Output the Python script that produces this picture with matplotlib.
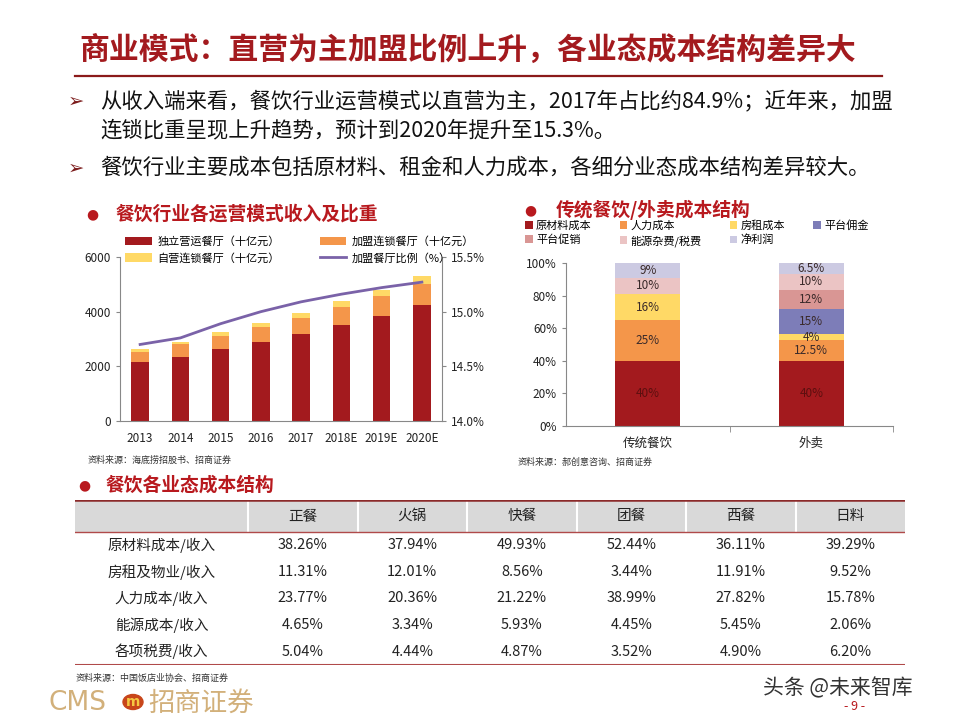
import numpy as np
import matplotlib
matplotlib.use("Agg")
import matplotlib.pyplot as plt
from matplotlib.patches import Circle
from matplotlib.lines import Line2D
from matplotlib.ticker import FuncFormatter

plt.rcParams['font.family'] = ['Noto Sans CJK SC', 'DejaVu Sans']

# ---- data: left chart (revenue by operating mode) ----
years = ['2013', '2014', '2015', '2016', '2017', '2018E', '2019E', '2020E']
independent = [2160, 2340, 2630, 2890, 3195, 3510, 3855, 4230]
franchise = [365, 465, 475, 535, 585, 660, 720, 790]
self_chain = [120, 85, 135, 160, 185, 205, 230, 270]
franchise_ratio = [14.70, 14.76, 14.89, 15.00, 15.09, 15.16, 15.22, 15.27]

# ---- data: right chart (cost structure) ----
cost_cats = ['传统餐饮', '外卖']
cost_items = ['原材料成本', '人力成本', '房租成本', '平台佣金', '平台促销', '能源杂费/税费', '净利润']
cost_vals = [
    [40, 40],
    [25, 12.5],
    [16, 4],
    [0, 15],
    [0, 12],
    [10, 10],
    [9, 6.5],
]

# ---- data: table ----
table_cols = ['正餐', '火锅', '快餐', '团餐', '西餐', '日料']
table_rows = ['原材料成本/收入', '房租及物业/收入', '人力成本/收入', '能源成本/收入', '各项税费/收入']
table_vals = [
    [38.26, 37.94, 49.93, 52.44, 36.11, 39.29],
    [11.31, 12.01, 8.56, 3.44, 11.91, 9.52],
    [23.77, 20.36, 21.22, 38.99, 27.82, 15.78],
    [4.65, 3.34, 5.93, 4.45, 5.45, 2.06],
    [5.04, 4.44, 4.87, 3.52, 4.90, 6.20],
]

W, H = 960, 720
DARK_RED = '#A31A1E'
TITLE_RED = '#B8191E'
ORANGE = '#F4964A'
YELLOW = '#FFD966'
PURPLE = '#7A62A8'
cost_colors = [DARK_RED, ORANGE, YELLOW, '#7D7DB8', '#D99694', '#EBC4C4', '#CCCAE2']


def box(l, t, r, b):
    return [l / W, 1 - b / H, (r - l) / W, (b - t) / H]


def fx(x):
    return x / W


def fy(y):
    return 1 - y / H


fig = plt.figure(figsize=(9.6, 7.2), dpi=100)
fig.patch.set_facecolor('white')

# ---- header ----
fig.text(fx(79), fy(50), '商业模式：直营为主加盟比例上升，各业态成本结构差异大',
         fontsize=21.5, fontweight='bold', color=DARK_RED, va='center', ha='left')
fig.add_artist(Line2D([fx(75), fx(882)], [fy(76), fy(76)], color='#8B1A1A', lw=1.6))

bullets = [
    (101, '从收入端来看，餐饮行业运营模式以直营为主，2017年占比约84.9%；近年来，加盟'),
    (130, '连锁比重呈现上升趋势，预计到2020年提升至15.3%。'),
    (168, '餐饮行业主要成本包括原材料、租金和人力成本，各细分业态成本结构差异较大。'),
]
for y, txt in bullets:
    fig.text(fx(100), fy(y), txt, fontsize=15.4, color='#111111', va='center', ha='left')
for y in (101, 168):
    fig.text(fx(68), fy(y), '➢', fontsize=14, color='#7B1A1A', va='center', ha='left',
             family=['DejaVu Sans'])

# ---- section titles ----
for (bx, tx, y, txt) in [(92, 116, 214, '餐饮行业各运营模式收入及比重'),
                         (530, 556, 210, '传统餐饮/外卖成本结构'),
                         (84, 106, 485, '餐饮各业态成本结构')]:
    fig.text(fx(bx), fy(y), '●', fontsize=10, color=TITLE_RED, va='center', ha='center',
             family=['DejaVu Sans'])
    fig.text(fx(tx), fy(y), txt, fontsize=13.5, fontweight='bold', color=TITLE_RED,
             va='center', ha='left')

# ---- left chart ----
ax1 = fig.add_axes(box(120, 257, 442, 421))
x = np.arange(len(years))
bw = 0.43
ind = np.array(independent)
fra = np.array(franchise)
sc = np.array(self_chain)
ax1.bar(x, ind, bw, color=DARK_RED, label='独立营运餐厅（十亿元）')
ax1.bar(x, fra, bw, bottom=ind, color=ORANGE, label='加盟连锁餐厅（十亿元）')
ax1.bar(x, sc, bw, bottom=ind + fra, color=YELLOW, label='自营连锁餐厅（十亿元）')
ax1.set_xlim(-0.5, len(years) - 0.5)
ax1.set_ylim(0, 6000)
ax1.set_yticks([0, 2000, 4000, 6000])
ax1.set_xticks(x)
ax1.set_xticklabels(years)
ax1.tick_params(axis='x', length=0, labelsize=8.5, pad=8, colors='#222222')
ax1.tick_params(axis='y', length=3, labelsize=8.5, colors='#222222', color='#888888')
for s in ['top', 'right']:
    ax1.spines[s].set_visible(False)
for s in ['left', 'bottom']:
    ax1.spines[s].set_color('#888888')

ax1r = ax1.twinx()
ax1r.plot(x, franchise_ratio, color=PURPLE, lw=2, label='加盟餐厅比例（%）')
ax1r.set_ylim(14.0, 15.5)
ax1r.set_yticks([14.0, 14.5, 15.0, 15.5])
ax1r.yaxis.set_major_formatter(FuncFormatter(lambda v, p: f'{v:.1f}%'))
ax1r.tick_params(axis='y', length=3, labelsize=8.5, colors='#222222', color='#888888')
for s in ['top', 'left', 'bottom']:
    ax1r.spines[s].set_visible(False)
ax1r.spines['right'].set_color('#888888')

h1, l1 = ax1.get_legend_handles_labels()
h2, l2 = ax1r.get_legend_handles_labels()
handles = [h1[0], h1[2], h1[1], h2[0]]
labels = [l1[0], l1[2], l1[1], l2[0]]
fig.legend(handles, labels, loc='upper left', bbox_to_anchor=(fx(125), fy(236)),
           ncol=2, frameon=False, fontsize=8, handlelength=2.4, handleheight=0.8,
           handletextpad=0.5, columnspacing=3.6, labelspacing=0.55, borderaxespad=0,
           borderpad=0)
fig.text(fx(88), fy(460), '资料来源：海底捞招股书、招商证券', fontsize=6.5, color='#333333',
         va='center')

# ---- right chart ----
ax2 = fig.add_axes(box(566, 263, 893, 426))
xc = np.arange(len(cost_cats))
bottom = np.zeros(len(cost_cats))
for item, vals, col in zip(cost_items, cost_vals, cost_colors):
    vals = np.array(vals, dtype=float)
    ax2.bar(xc, vals, 0.4, bottom=bottom, color=col, label=item)
    for i, v in enumerate(vals):
        if v > 0:
            tc = '#5C0F0F' if col == DARK_RED else '#3A2A2A'
            ax2.text(xc[i], bottom[i] + v / 2, f'{v:g}%', ha='center', va='center',
                     fontsize=8.5, color=tc)
    bottom += vals
ax2.set_xlim(-0.5, 1.5)
ax2.set_ylim(0, 100)
ax2.set_yticks(np.arange(0, 101, 20))
ax2.yaxis.set_major_formatter(FuncFormatter(lambda v, p: f'{v:.0f}%'))
ax2.set_xticks(xc)
ax2.set_xticklabels(cost_cats)
ax2.set_xticks([0.5, 1.5], minor=True)
ax2.tick_params(axis='x', which='major', length=0, labelsize=9, pad=8, colors='#222222')
ax2.tick_params(axis='x', which='minor', length=4, color='#888888')
ax2.tick_params(axis='y', length=3, labelsize=8.5, colors='#222222', color='#888888')
for s in ['top', 'right']:
    ax2.spines[s].set_visible(False)
for s in ['left', 'bottom']:
    ax2.spines[s].set_color('#888888')

hh, ll = ax2.get_legend_handles_labels()
order = [0, 4, 1, 5, 2, 6, 3]
fig.legend([hh[i] for i in order], [ll[i] for i in order], loc='upper left',
           bbox_to_anchor=(fx(525), fy(220)), ncol=4, frameon=False, fontsize=8,
           handlelength=0.7, handleheight=0.7, handletextpad=0.3, columnspacing=2.5,
           labelspacing=0.35, borderaxespad=0, borderpad=0)
fig.text(fx(518), fy(462), '资料来源：郝创意咨询、招商证券', fontsize=6.5, color='#333333',
         va='center')

# ---- table ----
ax3 = fig.add_axes(box(75, 500, 905, 665))
first_w = 1.58
ax3.set_xlim(-first_w, len(table_cols))
ax3.set_ylim(len(table_rows), -1.2)
ax3.axis('off')
ax3.axhspan(-1.2, 0, color='#D9D9D9', lw=0)
for c in range(len(table_cols)):
    ax3.plot([c, c], [-1.2, 0], color='white', lw=1.5)
ax3.axhline(-1.2, color='#8B2A2A', lw=1.8)
ax3.axhline(0, color='#B04A4A', lw=1.0)
ax3.axhline(len(table_rows), color='#B04A4A', lw=1.5)
for c, name in enumerate(table_cols):
    ax3.text(c + 0.5, -0.6, name, ha='center', va='center', fontsize=10.5, color='#222222')
for r, (name, vals) in enumerate(zip(table_rows, table_vals)):
    ax3.text(-first_w / 2, r + 0.5, name, ha='center', va='center', fontsize=10.5,
             color='#222222')
    for c, v in enumerate(vals):
        ax3.text(c + 0.5, r + 0.5, f'{v:.2f}%', ha='center', va='center', fontsize=10.5,
                 color='#222222')
fig.text(fx(76), fy(678), '资料来源：中国饭店业协会、招商证券', fontsize=6.5, color='#333333',
         va='center')

# ---- footer ----
fig.text(fx(48), fy(703), 'CMS', fontsize=19, color='#D2B07A', va='center', ha='left',
         family=['DejaVu Sans'])
fig.add_artist(Circle((fx(133), fy(702)), 10 / W, transform=fig.transFigure,
                      color='#C8461A'))
fig.text(fx(133), fy(702), 'm', fontsize=10, fontweight='bold', color='#F5C842',
         va='center', ha='center', family=['DejaVu Sans'])
fig.text(fx(148), fy(703), '招商证券', fontsize=19, color='#D2B07A', va='center', ha='left')
fig.text(fx(763), fy(688), '头条 @未来智库', fontsize=15, color='#333333', va='center',
         ha='left')
fig.text(fx(855), fy(707), '- 9 -', fontsize=9, color=TITLE_RED, va='center', ha='center')

fig.savefig('out.png', dpi=100)
